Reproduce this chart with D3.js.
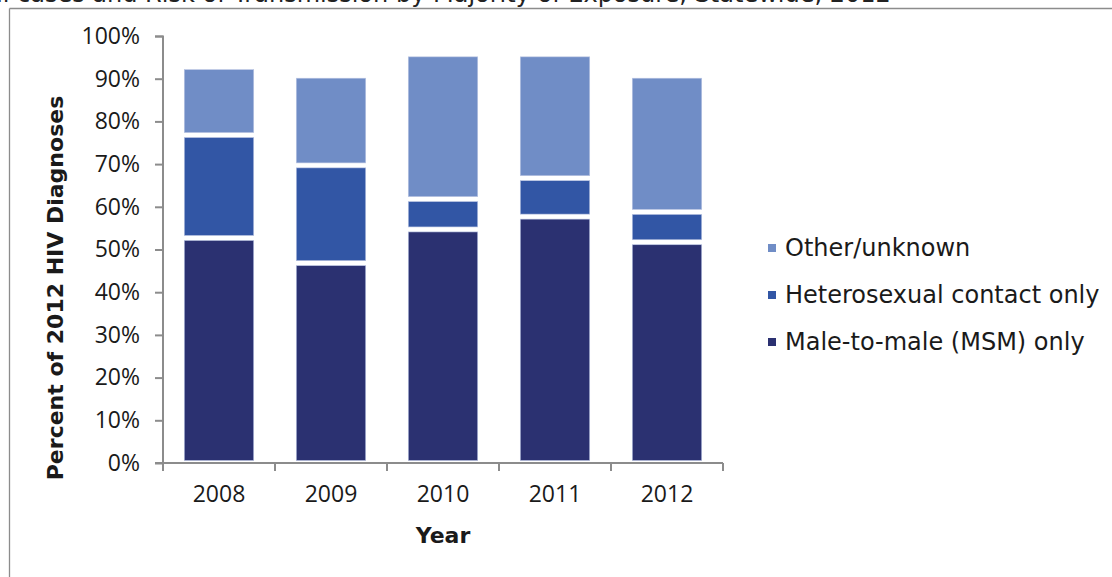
<!DOCTYPE html>
<html>
<head>
<meta charset="utf-8">
<script src="https://cdn.jsdelivr.net/npm/d3@7"></script>
<style>
  html, body { margin: 0; padding: 0; background: #fff; }
  svg { display: block; }
</style>
</head>
<body>
<svg id="chart" width="1112" height="577"></svg>
<script>
const years = ["2008", "2009", "2010", "2011", "2012"];
const msm = [52.7, 46.8, 54.7, 57.7, 51.7];
const hetero = [24.1, 22.9, 7.1, 9.0, 7.1];
const other = [15.9, 21.0, 33.9, 29.0, 31.9];
const seriesNames = ["Male-to-male (MSM) only", "Heterosexual contact only", "Other/unknown"];
const seriesKeys = ["msm", "hetero", "other"];
const colors = ["#2b3171", "#3256a5", "#708dc6"];
const yTicks = [0, 10, 20, 30, 40, 50, 60, 70, 80, 90, 100];

const rows = years.map((y, i) => ({ year: y, msm: msm[i], hetero: hetero[i], other: other[i] }));
const stacked = d3.stack().keys(seriesKeys)(rows);

const svg = d3.select("#chart");
const tickFont = "'Open Sans', sans-serif";
const legFont = "'DejaVu Sans', sans-serif";

// clipped title at the very top (cut off in the original too)
svg.append("text").attr("x", -12).attr("y", 2)
  .attr("font-family", legFont).attr("font-size", 24).attr("fill", "#222")
  .text("al cases and Risk of Transmission by Majority of Exposure, Statewide, 2012");
svg.append("line").attr("x1", 9.5).attr("x2", 1112).attr("y1", 8.5).attr("y2", 8.5)
  .attr("stroke", "#8c8c8c").attr("stroke-width", 1.3);
svg.append("line").attr("x1", 9.5).attr("x2", 9.5).attr("y1", 8.5).attr("y2", 577)
  .attr("stroke", "#8c8c8c").attr("stroke-width", 1.3);

const x = d3.scaleBand().domain(years).range([163, 723]).paddingInner(0.38).paddingOuter(0.19);
const y = d3.scaleLinear().domain([0, 100]).range([463, 36]);

const gap = 2.5;
svg.append("g").selectAll("g").data(stacked).join("g")
  .attr("fill", (d, i) => colors[i])
  .selectAll("rect").data(d => d).join("rect")
  .attr("x", d => x(d.data.year))
  .attr("width", x.bandwidth())
  .attr("y", d => y(d[1]) + gap)
  .attr("height", d => Math.max(0, y(d[0]) - y(d[1]) - 2 * gap))
  .attr("stroke", "#b9c4e2").attr("stroke-width", 0.6);

// y axis
const yAxis = svg.append("g").attr("transform", "translate(163,0)")
  .call(d3.axisLeft(y).tickValues(yTicks).tickFormat(d => d + "%").tickSize(8).tickPadding(15));
yAxis.select(".domain").attr("stroke", "#8c8c8c").attr("stroke-width", 2).attr("d", "M-8,36.5H0V463");
yAxis.selectAll(".tick line").attr("stroke", "#8c8c8c").attr("stroke-width", 2);
yAxis.selectAll(".tick text").attr("font-family", tickFont).attr("font-size", 23).attr("fill", "#1a1a1a");

// x axis
const xAxis = svg.append("g").attr("transform", "translate(0,463)")
  .call(d3.axisBottom(x).tickSize(0).tickPadding(23));
xAxis.select(".domain").attr("stroke", "#8c8c8c").attr("stroke-width", 2).attr("d", "M155,0H723");
xAxis.selectAll(".tick text").attr("font-family", tickFont).attr("font-size", 23).attr("fill", "#1a1a1a");
const bounds = [163].concat(years.map(yy => x(yy) + x.bandwidth() + x.step() * x.paddingInner() / 2));
bounds[bounds.length - 1] = 723;
svg.append("g").selectAll("line").data(bounds).join("line")
  .attr("x1", d => d).attr("x2", d => d).attr("y1", 463).attr("y2", 471)
  .attr("stroke", "#8c8c8c").attr("stroke-width", 2);

// axis titles
svg.append("text").attr("transform", "translate(63,288) rotate(-90)")
  .attr("text-anchor", "middle").attr("font-family", legFont).attr("font-weight", "bold")
  .attr("font-size", 22).attr("fill", "#1a1a1a").text("Percent of 2012 HIV Diagnoses");
svg.append("text").attr("x", 443).attr("y", 543)
  .attr("text-anchor", "middle").attr("font-family", legFont).attr("font-weight", "bold")
  .attr("font-size", 22).attr("fill", "#1a1a1a").text("Year");

// legend (top to bottom: other, hetero, msm)
const legOrder = [2, 1, 0];
const leg = svg.append("g").selectAll("g").data(legOrder).join("g")
  .attr("transform", (d, i) => `translate(768,${248 + i * 47})`);
leg.append("rect").attr("x", 0).attr("y", -4).attr("width", 8).attr("height", 8)
  .attr("fill", d => colors[d]);
leg.append("text").attr("x", 17).attr("y", 0).attr("dy", "0.35em")
  .attr("font-family", legFont).attr("font-size", 24).attr("fill", "#1a1a1a")
  .text(d => seriesNames[d]);
</script>
</body>
</html>
